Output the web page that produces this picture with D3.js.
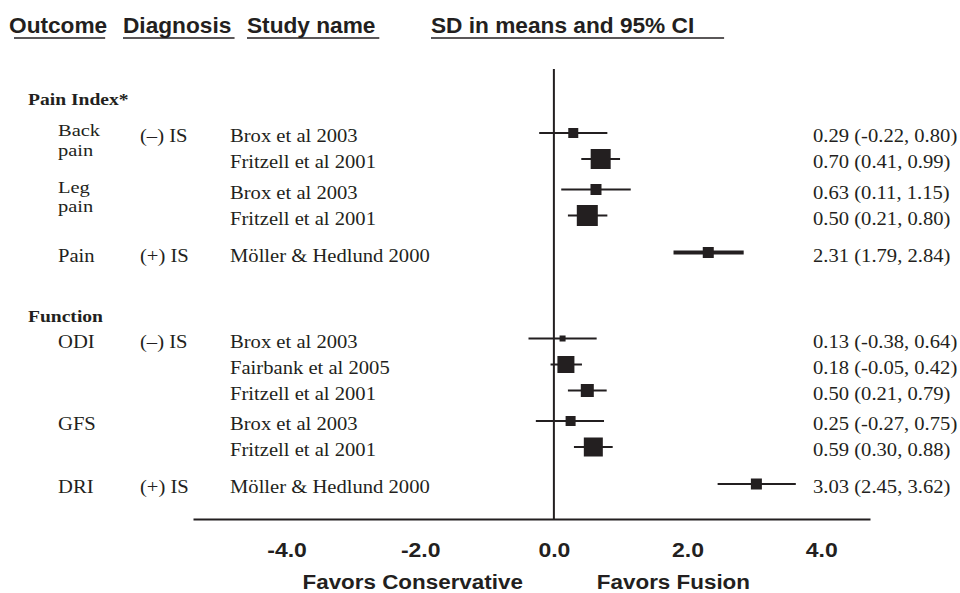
<!DOCTYPE html>
<html>
<head>
<meta charset="utf-8">
<script src="https://cdn.jsdelivr.net/npm/d3@7"></script>
<style>
  html, body { margin: 0; padding: 0; background: #fff; }
  svg { display: block; }
</style>
</head>
<body>
<script>
// ---------------- DATA ----------------
const columnHeaders = ["Outcome", "Diagnosis", "Study name", "SD in means and 95% CI"];
const sections = ["Pain Index*", "Function"];
const rowSection = [0, 0, 0, 0, 0, 1, 1, 1, 1, 1, 1];
const rowOutcome = ["Back pain", "Back pain", "Leg pain", "Leg pain", "Pain",
                    "ODI", "ODI", "ODI", "GFS", "GFS", "DRI"];
const rowDiagnosis = ["(–) IS", "(–) IS", "(–) IS", "(–) IS", "(+) IS",
                      "(–) IS", "(–) IS", "(–) IS", "(–) IS", "(–) IS", "(+) IS"];
const studies = ["Brox et al 2003", "Fritzell et al 2001", "Brox et al 2003", "Fritzell et al 2001",
                 "Möller & Hedlund 2000", "Brox et al 2003", "Fairbank et al 2005", "Fritzell et al 2001",
                 "Brox et al 2003", "Fritzell et al 2001", "Möller & Hedlund 2000"];
const effect = [0.29, 0.70, 0.63, 0.50, 2.31, 0.13, 0.18, 0.50, 0.25, 0.59, 3.03];
const lower  = [-0.22, 0.41, 0.11, 0.21, 1.79, -0.38, -0.05, 0.21, -0.27, 0.30, 2.45];
const upper  = [0.80, 0.99, 1.15, 0.80, 2.84, 0.64, 0.42, 0.79, 0.75, 0.88, 3.62];
const relWeight = [10, 20, 11, 21, 11, 6, 17, 13, 10, 19, 11];
const tickValues = [-4, -2, 0, 2, 4];
const tickLabels = ["-4.0", "-2.0", "0.0", "2.0", "4.0"];
const favorLabels = ["Favors Conservative", "Favors Fusion"];

// ---------------- LAYOUT / STYLE ----------------
const W = 960, H = 593;
const ink = "#231f20";
const serif = "'Liberation Serif','Times New Roman',serif";
const sans = "'Liberation Sans',Arial,sans-serif";
const col = { outcome: 58, diag: 140, study: 230, value: 813, section: 28 };
const thickCI = new Set([4]);

const svg = d3.select("body").append("svg").attr("width", W).attr("height", H);

function stretch(sel, k) {
  sel.each(function () {
    const w = this.getComputedTextLength();
    d3.select(this).attr("textLength", w * k).attr("lengthAdjust", "spacingAndGlyphs");
  });
  return sel;
}

// x scale (data units -> px)
const x = d3.scaleLinear().domain([-5.4, 4.73]).range([193, 870]);

// y positions by layout rules
const rowStep = 26, subGap = 30.5, groupGap = 37, sectionGap = 86, firstRow = 133;
const rowY = [];
effect.forEach((_, i) => {
  if (i === 0) { rowY.push(firstRow); return; }
  let step = rowStep;
  if (rowSection[i] !== rowSection[i - 1]) step = sectionGap;
  else if (rowDiagnosis[i] !== rowDiagnosis[i - 1]) step = groupGap;
  else if (rowOutcome[i] !== rowOutcome[i - 1]) step = subGap;
  rowY.push(rowY[i - 1] + step);
});
const y = d3.scaleOrdinal().domain(d3.range(effect.length)).range(rowY);
const size = d3.scaleLinear().domain([0, 21]).range([0, 21]);

const axisY = 519;

// ---------------- HEADERS ----------------
const headerX = [9, 123, 247, 431];
const hdr = svg.append("g");
columnHeaders.forEach((t, i) => {
  const tx = hdr.append("text")
    .attr("x", headerX[i]).attr("y", 33)
    .attr("font-family", sans).attr("font-weight", "bold").attr("font-size", 22)
    .attr("fill", ink).text(t);
  stretch(tx, 1.03);
  const w = tx.node().getComputedTextLength() * 1.03;
  const extra = i === 3 ? 22 : 0;
  const inset = i === 0 ? 5 : 0;
  hdr.append("line")
    .attr("x1", headerX[i] + inset).attr("x2", headerX[i] + w - inset + extra)
    .attr("y1", 38).attr("y2", 38)
    .attr("stroke", ink).attr("stroke-width", 1.5);
});

// ---------------- ZERO LINE + AXIS ----------------
svg.append("line")
  .attr("x1", x(0)).attr("x2", x(0))
  .attr("y1", firstRow - 64).attr("y2", axisY)
  .attr("stroke", ink).attr("stroke-width", 2);

const axis = d3.axisBottom(x)
  .tickValues(tickValues)
  .tickFormat((d, i) => tickLabels[i])
  .tickSizeInner(0).tickSizeOuter(0);
const ax = svg.append("g").attr("transform", `translate(0,${axisY})`).call(axis);
ax.select(".domain").attr("stroke", ink).attr("stroke-width", 2);
ax.selectAll(".tick text")
  .attr("y", 38).attr("dy", 0)
  .attr("font-family", sans).attr("font-weight", "bold").attr("font-size", 20)
  .attr("fill", ink);
stretch(ax.selectAll(".tick text"), 1.15);

const fc = svg.append("text")
  .attr("x", x(0) - 31).attr("y", 589).attr("text-anchor", "end")
  .attr("font-family", sans).attr("font-weight", "bold").attr("font-size", 20)
  .attr("fill", ink).text(favorLabels[0]);
const ff = svg.append("text")
  .attr("x", x(0) + 43).attr("y", 589)
  .attr("font-family", sans).attr("font-weight", "bold").attr("font-size", 20)
  .attr("fill", ink).text(favorLabels[1]);
stretch(fc, 1.12); stretch(ff, 1.12);

// ---------------- LEFT TEXT COLUMNS ----------------
const txt = svg.append("g").attr("font-family", serif).attr("font-size", 18).attr("fill", ink);
const K = 1.145;

// section headers: first one sits above its first row, later ones below the previous section
sections.forEach((s, si) => {
  const first = rowSection.indexOf(si);
  const hy = si === 0 ? y(first) - 28 : y(first - 1) + 69;
  const t = txt.append("text")
    .attr("x", col.section).attr("y", hy)
    .attr("font-weight", "bold").attr("font-size", 17).text(s);
  stretch(t, 1.15);
});

effect.forEach((_, i) => {
  const base = y(i) + 9;
  // outcome label (first row of each outcome group)
  if (i === 0 || rowOutcome[i] !== rowOutcome[i - 1]) {
    const words = rowOutcome[i].split(" ");
    if (words.length > 1) {
      const t = txt.append("text").attr("x", col.outcome).attr("y", y(i) + 3)
        .attr("font-size", 17.5);
      words.forEach((w, wi) => {
        const ts = t.append("tspan").attr("x", col.outcome)
          .attr("dy", wi === 0 ? 0 : 19.6).text(w);
        stretch(ts, 1.17);
      });
    } else {
      stretch(txt.append("text").attr("x", col.outcome).attr("y", base).text(rowOutcome[i]), K);
    }
  }
  // diagnosis (first row of each diagnosis group within a section)
  if (i === 0 || rowDiagnosis[i] !== rowDiagnosis[i - 1] || rowSection[i] !== rowSection[i - 1]) {
    stretch(txt.append("text").attr("x", col.diag).attr("y", base).text(rowDiagnosis[i]), K);
  }
  // study name
  stretch(txt.append("text").attr("x", col.study).attr("y", base).text(studies[i]), K);
  // value label
  const lbl = `${effect[i].toFixed(2)} (${lower[i].toFixed(2)}, ${upper[i].toFixed(2)})`;
  stretch(txt.append("text").attr("x", col.value).attr("y", base).text(lbl), K);
});

// ---------------- CI LINES + MARKERS ----------------
const marks = svg.append("g");
marks.selectAll("line.ci").data(effect).join("line")
  .attr("class", "ci")
  .attr("x1", (d, i) => x(lower[i])).attr("x2", (d, i) => x(upper[i]))
  .attr("y1", (d, i) => y(i)).attr("y2", (d, i) => y(i))
  .attr("stroke", ink)
  .attr("stroke-width", (d, i) => thickCI.has(i) ? 4 : 2);

marks.selectAll("rect.pt").data(effect).join("rect")
  .attr("class", "pt")
  .attr("x", (d, i) => x(d) - size(relWeight[i]) / 2)
  .attr("y", (d, i) => y(i) - size(relWeight[i]) / 2)
  .attr("width", (d, i) => size(relWeight[i]))
  .attr("height", (d, i) => size(relWeight[i]))
  .attr("fill", ink);
</script>
</body>
</html>
